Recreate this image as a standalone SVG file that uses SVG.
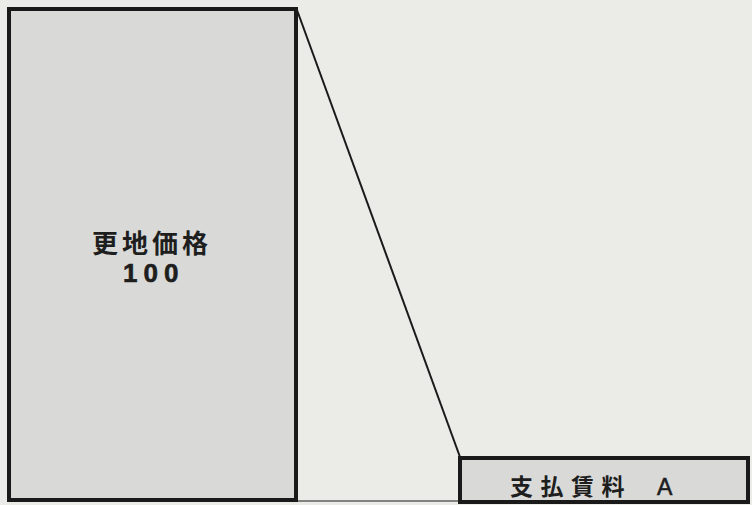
<svg xmlns="http://www.w3.org/2000/svg" width="752" height="505" viewBox="0 0 752 505">
<style>
.box{fill:#d9dad8;stroke:#1a1a1a;stroke-width:4}
.lbl{font-family:"Liberation Sans","Noto Sans CJK JP",sans-serif;font-weight:bold;fill:#1e1e1e}
.conn{stroke:#1a1a1a;fill:none}
</style>
<rect x="0" y="0" width="752" height="505" fill="#ebece8"/>
<g id="connectors">
<line class="conn" x1="297" y1="10" x2="460" y2="457" stroke-width="2"/>
<line class="conn" x1="296" y1="501" x2="460" y2="501" stroke-width="1"/>
</g>
<g id="node-sarachi">
<rect class="box" x="9" y="9" width="287" height="491"/>
<text class="lbl" x="92" y="253" font-size="26" letter-spacing="4">更地価格</text>
<text class="lbl" x="123" y="282" font-size="26" letter-spacing="6" font-weight="normal" stroke="#1e1e1e" stroke-width="0.6">100</text>
</g>
<g id="node-chinryo">
<rect class="box" x="460" y="458" width="288" height="44"/>
<text class="lbl" x="510" y="495" font-size="23" letter-spacing="7.5">支払賃料<tspan x="657" font-size="23" letter-spacing="0" font-weight="normal" stroke="#1e1e1e" stroke-width="0.6">A</tspan></text>
</g>
</svg>
